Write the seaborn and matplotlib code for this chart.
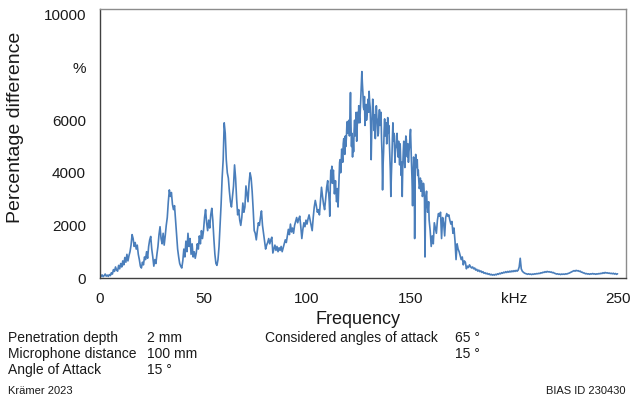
import numpy as np
import pandas as pd
import matplotlib
matplotlib.use("Agg")
import matplotlib.pyplot as plt
import seaborn as sns

# Percentage difference spectrum.
# Low band: 0-109.5 kHz every 0.5 kHz
pct_low = [
    80, 60, 120, 50, 90, 150, 70, 110, 60, 130,
    90, 200, 150, 320, 250, 420, 300, 260, 480, 350,
    550, 420, 650, 500, 780, 600, 900, 650, 850, 1000,
    1250, 1650, 1500, 1200, 1350, 1100, 1250, 900, 700, 450,
    380, 600, 500, 800, 700, 1000, 750, 1200, 1450, 1580,
    1100, 800, 450, 700, 550, 900, 1200, 1650, 1950, 1500,
    1300, 1700, 1250, 1600, 2000, 2300, 2900, 3350, 3100, 3250,
    2800, 2600, 2750, 2200, 1600, 1100, 800, 550, 450, 380,
    650, 1100, 800, 1400, 1000, 1700, 1200, 1500, 900, 1300,
    800, 1000, 750, 950, 1300, 1100, 1600, 1300, 1800, 1500,
    1800, 2300, 2600, 2100, 1800, 2200, 1900, 2400, 2650, 2200,
    1500, 900, 550, 480, 700, 1200, 2000, 2800, 3800, 4500,
    5900, 5500, 4500, 4000, 3800, 3300, 2900, 2700, 3100, 3500,
    4300, 3800, 3000, 2400, 2600, 2200, 2000, 2300, 2850, 2500,
    2700, 3500, 3200, 2900, 3600, 4000, 3800, 3300, 2600, 1800,
    1700, 1450, 1800, 2100, 2000, 2300, 2550, 2000, 1700, 1400,
    1100, 1250, 1350, 1500, 1300, 1450, 1550, 950, 1100, 1250,
    1050, 1200, 1000, 1150, 1050, 1200, 1000, 1150, 1300, 1450,
    1350, 1600, 1850, 1650, 2050, 1750, 1900, 1700, 2000, 2150,
    2300, 2100, 2250, 2350, 1950, 1500, 1850, 2100, 1950, 2200,
    2050, 2250, 2400, 2200, 2000, 1800, 2300, 2700, 2950, 2750,
    2500, 2600, 2400, 2900, 3450, 3100, 2800, 2600, 3000, 3450,
]

# Main band: 110-159.75 kHz every 0.25 kHz
pct_main = [
    3700, 3300, 3200, 2900, 2350, 3500, 4100, 3800, 4250, 3600,
    3900, 4100, 3600, 3200, 3400, 3700, 3300, 2900, 3000, 3400,
    2700, 3300, 3900, 4400, 4500, 4000, 4300, 4900, 4750, 4400,
    5100, 5300, 5000, 4700, 5400, 5000, 5300, 5800, 5950, 5500,
    5600, 6000, 5400, 6200, 7050, 5800, 5000, 5500, 4600, 5300,
    4800, 5600, 6000, 5400, 5800, 6300, 5200, 5700, 6300, 5900,
    6550, 6100, 5900, 6400, 6800, 7300, 7850, 7400, 7050, 6500,
    6400, 6900, 5800, 6200, 6600, 6000, 6200, 6500, 6800, 6300,
    7100, 6700, 6500, 5800, 4500, 5500, 6200, 6800, 6500, 6000,
    5600, 6200, 5300, 5900, 6550, 6100, 6000, 5400, 5500, 6100,
    6400, 5800, 6000, 6300, 5300, 4700, 3350, 4300, 4800, 5600,
    6050, 5400, 5500, 5900, 5100, 5600, 6100, 5500, 5800, 5200,
    4700, 4100, 3100, 3900, 4500, 5300, 5900, 5200, 5500, 5000,
    4400, 4900, 5000, 5400, 5500, 4900, 4600, 5200, 4800, 4300,
    5100, 4500, 3900, 4400, 3100, 4200, 4800, 5200, 4600, 4200,
    4950, 5400, 5250, 4800, 4600, 5100, 4400, 4800, 5000, 5400,
    5650, 4900, 4300, 3700, 2750, 3900, 4600, 4300, 1500, 3800,
    4700, 4400, 4200, 4500, 3900, 4100, 3700, 3400, 3500, 3800,
    3300, 3700, 3500, 3100, 3200, 3600, 3400, 3000, 800, 2600,
    3100, 3300, 2800, 2500, 2600, 2900, 2200, 2000, 1800, 1500,
]

# High band: 160-250 kHz every 0.5 kHz
pct_high = [
    1200, 1600, 1300, 2100, 1900, 1700, 2200, 2450, 2350, 2500,
    1500, 2300, 2100, 1600, 2300, 2450, 2350, 2400, 2200, 2050,
    2150, 1700, 1900, 1400, 700, 1300, 1100, 1000, 850, 700,
    800, 500, 650, 600, 350, 450, 400, 500, 430, 380,
    420, 350, 380, 300, 330, 260, 300, 240, 270, 210,
    240, 180, 200, 160, 180, 140, 160, 120, 140, 110,
    130, 110, 140, 120, 160, 140, 180, 160, 200, 180,
    220, 200, 240, 210, 250, 220, 260, 230, 270, 240,
    280, 250, 290, 260, 300, 420, 750, 350, 260, 220,
    190, 170, 160, 140, 160, 140, 150, 130, 150, 140,
    160, 150, 170, 160, 180, 170, 200, 190, 220, 210,
    240, 220, 250, 230, 240, 220, 230, 200, 210, 180,
    170, 150, 160, 140, 150, 130, 150, 140, 150, 140,
    160, 150, 170, 180, 200, 220, 240, 260, 280, 260,
    290, 270, 280, 250, 260, 220, 220, 190, 190, 160,
    170, 150, 160, 140, 160, 150, 170, 150, 160, 140,
    160, 150, 170, 160, 180, 170, 200, 180, 210, 190,
    200, 180, 190, 170, 180, 160, 180, 150, 170, 140,
    160,
]

freq_low = np.arange(0, 110, 0.5)
freq_main = np.arange(110, 160, 0.25)
freq_high = np.arange(160, 250.5, 0.5)

y_ticks = [0, 2000, 4000, 6000, 8000, 10000]
y_tick_labels = ["0", "2000", "4000", "6000", "%", "10000"]
x_ticks = [0, 50, 100, 150, 200, 250]
x_tick_labels = ["0", "50", "100", "150", "kHz", "250"]

params_left = [("Penetration depth", "2 mm"),
               ("Microphone distance", "100 mm"),
               ("Angle of Attack", "15 °")]
params_right = [("Considered angles of attack", "65 °"),
                ("", "15 °")]

df = pd.DataFrame({
    "freq": np.concatenate([freq_low, freq_main, freq_high]),
    "pct": pct_low + pct_main + pct_high,
})

sns.set_theme(style="white")
plt.rcParams["font.family"] = ["Liberation Sans", "DejaVu Sans"]

W, H = 632, 405
fig = plt.figure(figsize=(W / 100, H / 100), dpi=100)
ax = fig.add_axes([100 / W, 1 - 278 / H, 526 / W, 269 / H])

sns.lineplot(data=df, x="freq", y="pct", ax=ax, color="#4a7ebb",
             linewidth=1.2, legend=False, sort=True)

ax.set_xlim(0, 254.1)
ax.set_ylim(0, 10228)
ax.set_xticks(x_ticks)
ax.set_xticklabels(x_tick_labels)
ax.set_yticks(y_ticks)
ax.set_yticklabels(y_tick_labels)
ax.tick_params(axis="both", direction="in", length=4.5, width=0.9,
               colors="#404040", labelsize=11, labelcolor="#1a1a1a", pad=10)
ax.set_xlabel("")
ax.set_ylabel("")

for side in ("left", "bottom"):
    ax.spines[side].set_color("#404040")
    ax.spines[side].set_linewidth(1.0)
for side in ("top", "right"):
    ax.spines[side].set_color("#8c8c8c")
    ax.spines[side].set_linewidth(1.0)

def px(x, y):
    return x / W, 1 - y / H

fig.text(*px(16, 127), "Percentage difference", rotation=90,
         ha="center", va="center", fontsize=14, color="#1a1a1a")
fig.text(*px(358, 320), "Frequency", ha="center", va="center",
         fontsize=13, color="#1a1a1a")

row_y = [338, 354, 370]
for (name, val), y in zip(params_left, row_y):
    fig.text(*px(8, y), name, ha="left", va="center", fontsize=10, color="#1a1a1a")
    fig.text(*px(147, y), val, ha="left", va="center", fontsize=10, color="#1a1a1a")
for (name, val), y in zip(params_right, row_y):
    if name:
        fig.text(*px(265, y), name, ha="left", va="center", fontsize=10, color="#1a1a1a")
    fig.text(*px(455, y), val, ha="left", va="center", fontsize=10, color="#1a1a1a")

fig.text(*px(8, 391), "Krämer 2023", ha="left", va="center", fontsize=8, color="#1a1a1a")
fig.text(*px(625, 391), "BIAS ID 230430", ha="right", va="center", fontsize=8, color="#1a1a1a")

fig.savefig("out.png", dpi=100, facecolor="white")
